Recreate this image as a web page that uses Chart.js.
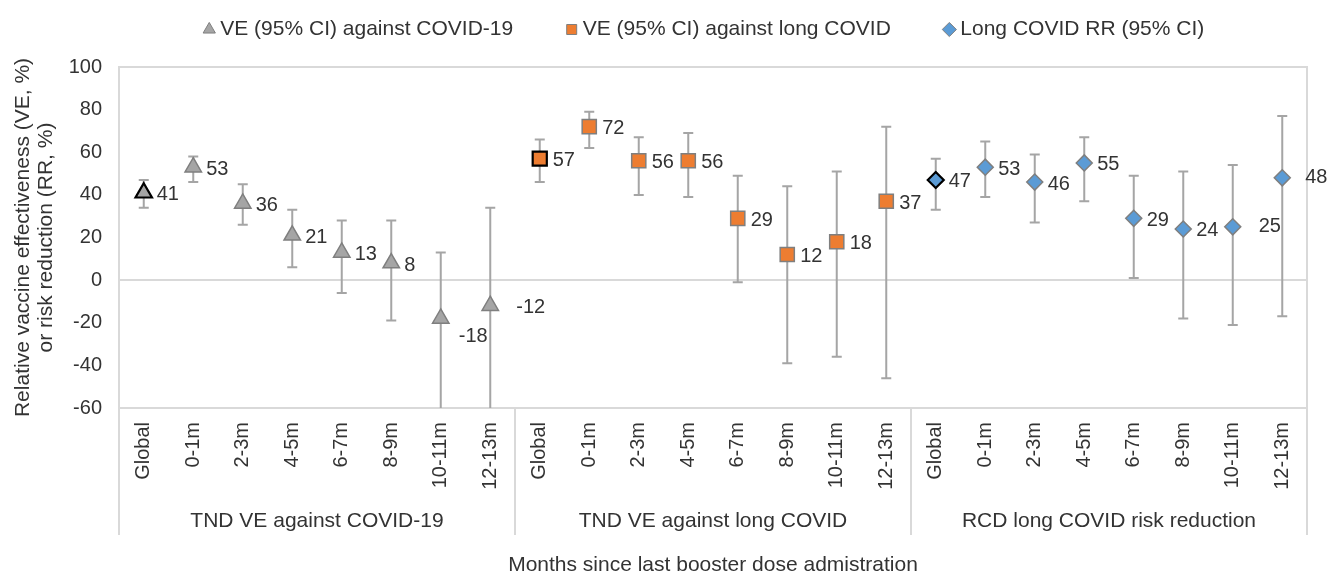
<!DOCTYPE html>
<html>
<head>
<meta charset="utf-8">
<script src="https://cdn.jsdelivr.net/npm/chart.js@4.4.1/dist/chart.umd.min.js"></script>
<style>
  html, body { margin: 0; padding: 0; background: #fff; }
  #wrap { width: 1329px; height: 574px; }
</style>
</head>
<body>
<div id="wrap"><canvas id="veChart" width="1329" height="574"></canvas></div>
<script>
// ---- data ----
const periodLabels = ["Global", "0-1m", "2-3m", "4-5m", "6-7m", "8-9m", "10-11m", "12-13m"];
const groupLabels = ["TND VE against COVID-19", "TND VE against long COVID", "RCD long COVID risk reduction"];
const seriesNames = ["VE (95% CI) against COVID-19", "VE (95% CI) against long COVID", "Long COVID RR (95% CI)"];

// TND VE against COVID-19 (lower bounds of the last two run off the axis)
const covidVE = [41, 53, 36, 21, 13, 8, -18, -12];
const covidLow = [34, 46, 26, 6, -6, -19, -75, -80];
const covidHigh = [47, 58, 45, 33, 28, 28, 13, 34];

// TND VE against long COVID
const longVE = [57, 72, 56, 56, 29, 12, 18, 37];
const longLow = [46, 62, 40, 39, -1, -39, -36, -46];
const longHigh = [66, 79, 67, 69, 49, 44, 51, 72];

// RCD long COVID risk reduction
const rrValues = [47, 53, 46, 55, 29, 24, 25, 48];
const rrLow = [33, 39, 27, 37, 1, -18, -21, -17];
const rrHigh = [57, 65, 59, 67, 49, 51, 54, 77];

const yMin = -60;
const yMax = 100;
const yStep = 20;

// ---- helpers ----
const FONT = "'Liberation Sans', Arial, sans-serif";
const TEXT_COLOR = "#333333";
const AXIS_GRAY = "#d9d9d9";
const BAR_GRAY = "#a5a5a5";

const nGroups = groupLabels.length;
const perGroup = periodLabels.length;
const allLabels = groupLabels.flatMap(() => periodLabels);

// place a group's values into its slot of the 24 categories
function placeInGroup(values, groupIndex) {
  return allLabels.map((_, i) => {
    const g = Math.floor(i / perGroup);
    return g === groupIndex ? values[i % perGroup] : null;
  });
}

const isGlobal = (ctx) => ctx.dataIndex % perGroup === 0;

function makeDataset(label, values, low, high, groupIndex, style) {
  return {
    label,
    data: placeInGroup(values, groupIndex),
    errLow: placeInGroup(low, groupIndex),
    errHigh: placeInGroup(high, groupIndex),
    showLine: false,
    pointStyle: style.shape,
    pointRadius: style.radius,
    pointHoverRadius: style.radius,
    pointBackgroundColor: style.fill,
    pointBorderColor: (ctx) => (isGlobal(ctx) ? "#000000" : "#7f7f7f"),
    pointBorderWidth: (ctx) => (isGlobal(ctx) ? 2.2 : 1.5),
  };
}

// label nudges for a few values that were moved by hand in the original
const labelNudge = {
  "0-6": [18, 18],
  "0-7": [26, 2],
  "2-6": [26, 0],
  "2-7": [23, 0],
};

/**
 * Plugin: plot frame and error bars
 */
const errorBarPlugin = {
  id: "errorBars",
  beforeDatasetsDraw(chart) {
    const { ctx, chartArea, scales } = chart;
    const x = scales.x, y = scales.y;

    // frame round the plot area
    ctx.save();
    ctx.strokeStyle = AXIS_GRAY;
    ctx.lineWidth = 2;
    ctx.strokeRect(chartArea.left, chartArea.top, chartArea.width, chartArea.height);
    ctx.restore();

    ctx.save();
    ctx.beginPath();
    ctx.rect(chartArea.left, chartArea.top, chartArea.width, chartArea.height);
    ctx.clip();
    ctx.strokeStyle = BAR_GRAY;
    ctx.lineWidth = 2;
    chart.data.datasets.forEach((ds) => {
      ds.data.forEach((v, i) => {
        if (v === null) return;
        const px = x.getPixelForValue(i);
        const yLo = y.getPixelForValue(ds.errLow[i]);
        const yHi = y.getPixelForValue(ds.errHigh[i]);
        ctx.beginPath();
        ctx.moveTo(px, yLo);
        ctx.lineTo(px, yHi);
        ctx.moveTo(px - 5, yHi);
        ctx.lineTo(px + 5, yHi);
        ctx.moveTo(px - 5, yLo);
        ctx.lineTo(px + 5, yLo);
        ctx.stroke();
      });
    });
    ctx.restore();
  },
};

/**
 * Plugin: value labels, group table under the axis, axis title
 */
const labelsPlugin = {
  id: "valueLabels",
  afterDatasetsDraw(chart) {
    const { ctx } = chart;
    ctx.save();
    ctx.font = `20px ${FONT}`;
    ctx.fillStyle = TEXT_COLOR;
    ctx.textAlign = "left";
    ctx.textBaseline = "middle";
    chart.data.datasets.forEach((ds, di) => {
      const meta = chart.getDatasetMeta(di);
      ds.data.forEach((v, i) => {
        if (v === null) return;
        const pt = meta.data[i];
        const nudge = labelNudge[`${di}-${i % perGroup}`] || [13, 2];
        ctx.fillText(String(v), pt.x + nudge[0], pt.y + nudge[1]);
      });
    });
    ctx.restore();
  },
  afterDraw(chart) {
    const { ctx, chartArea, scales } = chart;
    const x = scales.x;
    const step = chartArea.width / allLabels.length;
    const tableBottom = chartArea.bottom + 127;

    ctx.save();
    ctx.strokeStyle = AXIS_GRAY;
    ctx.lineWidth = 2;
    for (let g = 0; g <= nGroups; g++) {
      const lx = chartArea.left + g * perGroup * step;
      ctx.beginPath();
      ctx.moveTo(lx, chartArea.bottom);
      ctx.lineTo(lx, tableBottom);
      ctx.stroke();
    }

    ctx.font = `21px ${FONT}`;
    ctx.fillStyle = TEXT_COLOR;
    ctx.textAlign = "center";
    ctx.textBaseline = "middle";
    groupLabels.forEach((name, g) => {
      const first = x.getPixelForValue(g * perGroup);
      const last = x.getPixelForValue(g * perGroup + perGroup - 1);
      ctx.fillText(name, (first + last) / 2, chartArea.bottom + 113);
    });

    ctx.fillText("Months since last booster dose admistration",
      (chartArea.left + chartArea.right) / 2, chartArea.bottom + 157);
    ctx.restore();
  },
};

/**
 * Plugin: fixed legend band height, legend nudged right like the original
 */
const legendHeightPlugin = {
  id: "legendHeight",
  beforeInit(chart) {
    const fit = chart.legend.fit;
    chart.legend.fit = function () {
      fit.bind(chart.legend)();
      this.height = 106;
    };
  },
  afterLayout(chart) {
    chart.legend.left += 53;
    chart.legend.right += 53;
  },
};

const ctx = document.getElementById("veChart").getContext("2d");
new Chart(ctx, {
  type: "line",
  data: {
    labels: allLabels,
    datasets: [
      makeDataset(seriesNames[0], covidVE, covidLow, covidHigh, 0,
        { shape: "triangle", radius: 9.5, fill: "#a5a5a5" }),
      makeDataset(seriesNames[1], longVE, longLow, longHigh, 1,
        { shape: "rect", radius: 10, fill: "#ed7d31" }),
      makeDataset(seriesNames[2], rrValues, rrLow, rrHigh, 2,
        { shape: "rectRot", radius: 8, fill: "#5b9bd5" }),
    ],
  },
  options: {
    responsive: false,
    devicePixelRatio: 1,
    animation: false,
    layout: { padding: { top: -39, left: 0, right: 22, bottom: 0 } },
    plugins: {
      tooltip: { enabled: false },
      legend: {
        position: "top",
        labels: {
          usePointStyle: true,
          boxWidth: 1,
          boxHeight: 10,
          padding: 58,
          color: TEXT_COLOR,
          font: { family: FONT, size: 21 },
          generateLabels: (chart) => chart.data.datasets.map((ds, i) => ({
            text: ds.label,
            fillStyle: ds.pointBackgroundColor,
            strokeStyle: "#7f7f7f",
            lineWidth: 1,
            pointStyle: ds.pointStyle,
            hidden: false,
            datasetIndex: i,
            fontColor: TEXT_COLOR,
          })),
        },
      },
    },
    scales: {
      x: {
        type: "category",
        offset: true,
        grid: { display: false, drawTicks: false },
        border: { display: false },
        ticks: {
          autoSkip: false,
          maxRotation: 90,
          minRotation: 90,
          padding: 14,
          color: TEXT_COLOR,
          font: { family: FONT, size: 20 },
        },
        afterFit: (scale) => { scale.height = 166; },
      },
      y: {
        min: yMin,
        max: yMax,
        ticks: {
          stepSize: yStep,
          padding: 17,
          color: TEXT_COLOR,
          font: { family: FONT, size: 20 },
        },
        grid: {
          drawTicks: false,
          lineWidth: 2,
          color: (c) => (c.tick && c.tick.value === 0 ? AXIS_GRAY : "rgba(0,0,0,0)"),
        },
        border: { display: false },
        title: {
          display: true,
          text: ["Relative vaccine effectiveness (VE, %)", "or risk reduction (RR, %)"],
          color: TEXT_COLOR,
          font: { family: FONT, size: 21, lineHeight: 1.1 },
          padding: { top: 12, bottom: 0 },
        },
        afterFit: (scale) => { scale.width = 119; },
      },
    },
  },
  plugins: [legendHeightPlugin, errorBarPlugin, labelsPlugin],
});
</script>
</body>
</html>
